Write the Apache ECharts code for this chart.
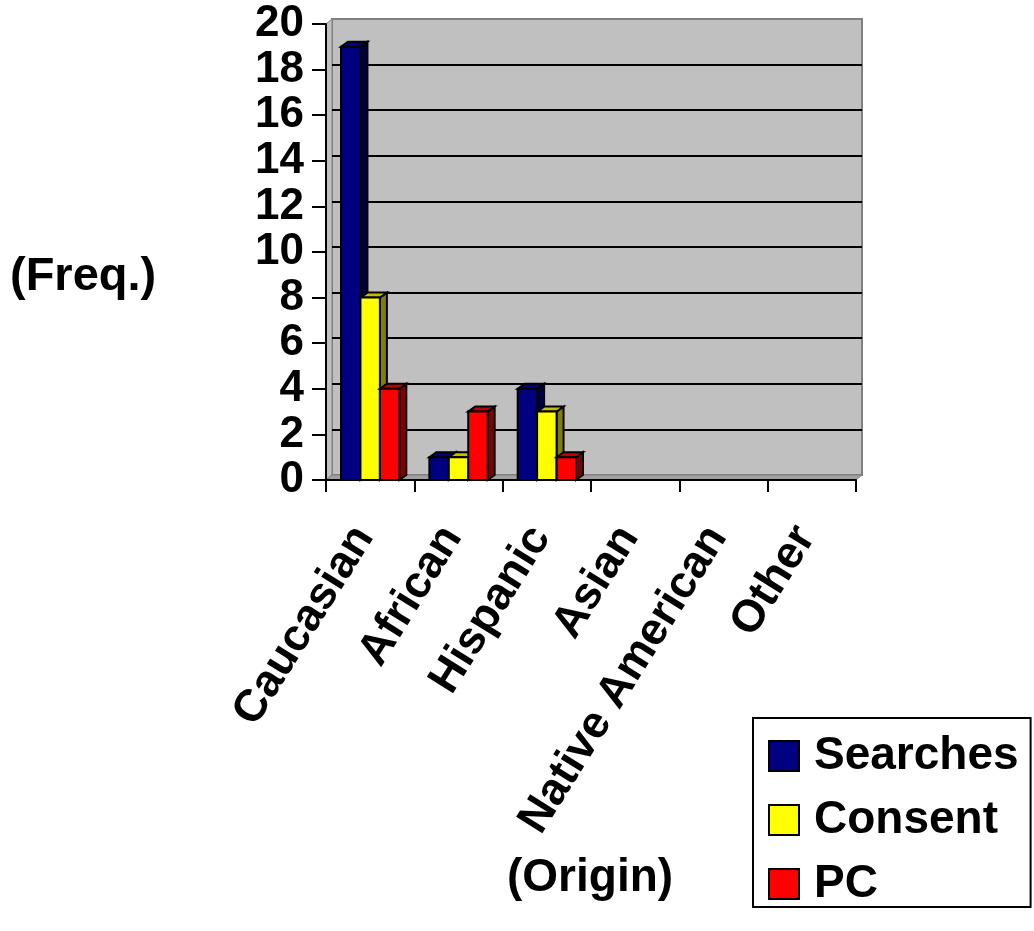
<!DOCTYPE html>
<html>
<head>
<meta charset="utf-8">
<script src="https://cdn.jsdelivr.net/npm/echarts@6/dist/echarts.min.js"></script>
<style>
  html, body { margin: 0; padding: 0; background: #fff; }
  #chart { width: 1034px; height: 931px; }
</style>
</head>
<body>
<div id="chart"></div>
<script>
// Categories and counts per series
const categories = ['Caucasian', 'African', 'Hispanic', 'Asian', 'Native American', 'Other'];
const searches = [19, 1, 4, 0, 0, 0];
const consent  = [8, 1, 3, 0, 0, 0];
const pc       = [4, 3, 1, 0, 0, 0];
const yTicks = { min: 0, max: 20, interval: 2 };

const FONT = '"Liberation Sans", Arial, sans-serif';

// Plot box (front plane) and depth of the pseudo-3D wall / bars
const PLOT = { left: 326, right: 856, top: 24, bottom: 480 };
const WALL = { dx: 6, dy: -5 };
const BAR = { dx: 7, dy: -5, frac: 0.22 };

const seriesDefs = [
  { name: 'Searches', data: searches, front: '#000080', top: '#000080', side: '#000040' },
  { name: 'Consent',  data: consent,  front: '#ffff00', top: '#c0c000', side: '#808000' },
  { name: 'PC',       data: pc,       front: '#ff0000', top: '#c00000', side: '#800000' }
];

// Each bar: front face, top face and right side face, all from axis coordinates
function makeRenderer(idx, def) {
  return function (params, api) {
    const cat = api.value(0);
    const val = api.value(1);
    if (!val) return null;
    const base = api.coord([cat, 0]);
    const topP = api.coord([cat, val]);
    const band = api.size([1, 0])[0];
    const w = band * BAR.frac;
    const x0 = base[0] + (idx - 1.5) * w;
    const x1 = x0 + w;
    const yb = base[1];
    const yt = topP[1];
    const dx = BAR.dx, dy = BAR.dy;
    const stroke = { stroke: '#000', lineWidth: 2, lineJoin: 'miter' };
    return {
      type: 'group',
      children: [
        { type: 'polygon', shape: { points: [[x1, yb], [x1 + dx, yb + dy], [x1 + dx, yt + dy], [x1, yt]] },
          style: Object.assign({ fill: def.side }, stroke) },
        { type: 'polygon', shape: { points: [[x0, yt], [x1, yt], [x1 + dx, yt + dy], [x0 + dx, yt + dy]] },
          style: Object.assign({ fill: def.top }, stroke) },
        { type: 'rect', shape: { x: x0, y: yt, width: w, height: yb - yt },
          style: Object.assign({ fill: def.front }, stroke) }
      ]
    };
  };
}

const series = seriesDefs.map((def, i) => ({
  name: def.name,
  type: 'custom',
  xAxisIndex: 0,
  yAxisIndex: 0,
  z: 5 + i,
  itemStyle: { color: def.front },
  renderItem: makeRenderer(i, def),
  data: def.data.map((v, c) => [c, v])
}));

const chart = echarts.init(document.getElementById('chart'), null, { renderer: 'canvas', width: 1034, height: 931 });

chart.setOption({
  backgroundColor: '#ffffff',
  animation: false,
  grid: [
    { left: PLOT.left, top: PLOT.top, width: PLOT.right - PLOT.left, height: PLOT.bottom - PLOT.top },
    { left: PLOT.left + WALL.dx, top: PLOT.top + WALL.dy, width: PLOT.right - PLOT.left, height: PLOT.bottom - PLOT.top,
      show: true, backgroundColor: '#c0c0c0', borderColor: '#808080', borderWidth: 2, z: -2 }
  ],
  xAxis: [
    {
      type: 'category', gridIndex: 0, data: categories, boundaryGap: true,
      axisLine: { lineStyle: { color: '#000', width: 2 } },
      axisTick: { show: true, length: 12, lineStyle: { color: '#000', width: 2 } },
      axisLabel: { interval: 0, rotate: 58, margin: 40, padding: [0, 12, 0, 0], color: '#000', fontFamily: FONT, fontWeight: 'bold', fontSize: 45 },
      splitLine: { show: false }
    },
    {
      type: 'category', gridIndex: 1, data: categories, boundaryGap: true,
      axisLine: { show: false }, axisTick: { show: false }, axisLabel: { show: false }, splitLine: { show: false }
    }
  ],
  yAxis: [
    {
      type: 'value', gridIndex: 0, min: yTicks.min, max: yTicks.max, interval: yTicks.interval,
      axisLine: { show: true, lineStyle: { color: '#000', width: 2 } },
      axisTick: { show: true, length: 14, lineStyle: { color: '#000', width: 2 } },
      axisLabel: { margin: 22, color: '#000', fontFamily: FONT, fontWeight: 'bold', fontSize: 44 },
      splitLine: { show: false }
    },
    {
      type: 'value', gridIndex: 1, min: yTicks.min, max: yTicks.max, interval: yTicks.interval,
      axisLine: { show: false }, axisTick: { show: false }, axisLabel: { show: false },
      splitLine: { show: true, showMinLine: false, showMaxLine: false, lineStyle: { color: '#000', width: 2 } }
    }
  ],
  legend: {
    orient: 'vertical',
    left: 753, top: 718,
    backgroundColor: '#ffffff',
    borderColor: '#000', borderWidth: 2,
    padding: [15, 12, 0, 15],
    itemWidth: 30, itemHeight: 30, itemGap: 18,
    itemStyle: { borderColor: '#000', borderWidth: 2 },
    textStyle: { color: '#000', fontFamily: FONT, fontWeight: 'bold', fontSize: 46, lineHeight: 40, padding: [0, 0, 0, 10] },
    data: seriesDefs.map(d => ({ name: d.name, icon: 'rect' }))
  },
  graphic: [
    // side wall strip
    { type: 'polygon', z: -1,
      shape: { points: [[PLOT.left, PLOT.bottom], [PLOT.left, PLOT.top], [PLOT.left + WALL.dx, PLOT.top + WALL.dy], [PLOT.left + WALL.dx, PLOT.bottom + WALL.dy]] },
      style: { fill: '#c0c0c0', stroke: '#808080', lineWidth: 1 } },
    // floor strip
    { type: 'polygon', z: -1,
      shape: { points: [[PLOT.left, PLOT.bottom], [PLOT.right, PLOT.bottom], [PLOT.right + WALL.dx, PLOT.bottom + WALL.dy], [PLOT.left + WALL.dx, PLOT.bottom + WALL.dy]] },
      style: { fill: '#a0a0a0', stroke: '#808080', lineWidth: 1 } },
    { type: 'text', left: 10, top: 254,
      style: { text: '(Freq.)', fill: '#000', font: 'bold 47px ' + FONT } },
    { type: 'text', left: 507, top: 855,
      style: { text: '(Origin)', fill: '#000', font: 'bold 46px ' + FONT } }
  ],
  series: series
});
</script>
</body>
</html>
